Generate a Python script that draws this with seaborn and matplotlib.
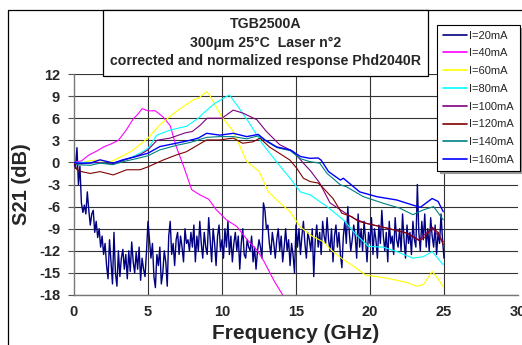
import numpy as np
import pandas as pd
import matplotlib
matplotlib.use("Agg")
import matplotlib.pyplot as plt
from matplotlib.patches import Rectangle
import seaborn as sns

# ---- measured S21 responses (frequency in GHz, S21 in dB) ----
f20 = np.round(np.arange(0, 25.01, 0.1), 1)
s20 = [
    0.0, -0.8, 2.0, -3.0, -0.5, -5.5, -6.8, -5.8, -7.0, -4.0,
    -6.5, -8.5, -7.0, -6.5, -9.5, -8.0, -10.2, -9.0, -11.5, -10.0,
    -12.5, -11.0, -14.0, -15.8, -10.5, -13.5, -16.5, -9.5, -15.0, -16.8,
    -12.0, -15.5, -13.0, -11.8, -14.5, -12.5, -15.8, -12.0, -14.8, -10.8,
    -13.5, -15.0, -12.2, -14.5, -11.5, -16.0, -13.0, -14.5, -15.5, -12.0,
    -8.0, -10.5, -13.0, -11.0, -15.5, -17.0, -12.5, -14.0, -11.5, -16.5,
    -15.0, -12.0, -13.5, -16.8, -10.0, -8.0, -12.5, -11.0, -14.0, -10.5,
    -9.5, -12.5, -10.0, -11.5, -13.5, -9.0, -11.0, -10.5, -12.0, -9.5,
    -11.5, -8.5, -13.5, -10.0, -12.0, -8.0, -11.0, -13.0, -9.5, -11.5,
    -12.5, -7.5, -10.5, -13.5, -9.0, -11.0, -14.0, -10.0, -8.5, -12.0,
    -10.5, -13.0, -9.0, -11.5, -8.0, -12.5, -10.0, -13.5, -11.0, -9.5,
    -12.0, -10.0, -14.5, -11.0, -9.0, -12.5, -13.0, -10.5, -11.5, -12.0,
    -10.0, -13.5, -11.5, -14.5, -12.0, -10.5, -11.5, -13.0, -5.5, -6.5,
    -9.0, -8.5, -11.0, -12.5, -9.5, -11.0, -13.0, -10.5, -9.0, -12.0,
    -10.0, -13.5, -11.5, -9.0, -12.0, -10.5, -14.0, -11.0, -12.5, -15.0,
    -8.5, -11.5, -9.0, -12.5, -10.0, -8.0, -11.0, -13.0, -9.5, -10.5,
    -12.0, -9.0, -15.5, -10.5, -8.5, -11.5, -9.5, -12.5, -8.0, -10.0,
    -11.0, -7.5, -10.5, -12.0, -9.0, -13.5, -10.0, -8.5, -11.5, -9.5,
    -12.5, -14.3, -10.0, -8.0, -11.0, -6.0, -9.5, -12.0, -10.5, -8.5,
    -10.0, -13.0, -7.0, -11.5, -9.0, -12.0, -8.0, -10.5, -13.5, -9.5,
    -11.0, -7.5, -12.5, -9.0, -10.5, -13.0, -8.5, -11.0, -6.5, -10.0,
    -12.0, -9.5, -13.5, -8.0, -11.0, -10.0, -12.5, -7.5, -10.5, -11.5,
    -9.0, -12.0, -7.0, -10.5, -13.0, -8.5, -11.0, -9.5, -12.5, -8.0,
    -10.5, -11.5, -3.0, -9.5, -12.0, -8.0, -10.5, -7.0, -11.5, -9.0,
    -12.0, -7.5, -10.0, -11.5, -8.5, -12.5, -9.5, -11.0, -7.0, -10.5,
    -13.0,
]

f40 = [0, 0.5, 1, 1.5, 2, 2.5, 3, 3.5, 4, 4.3, 4.6, 5, 5.5, 6, 6.5, 6.9, 7.4,
       7.95, 8.5, 9.1, 9.6, 10.3, 11, 11.7, 12.4, 12.8, 13.5, 14.1]
s40 = [0, 0.2, 1.0, 1.5, 2.1, 2.5, 3.0, 4.3, 5.9, 6.5, 7.3, 7.0, 7.0, 6.2, 5.0,
       2.2, -0.5, -3.7, -4.4, -5.0, -6.4, -7.8, -8.7, -10.5, -12.0, -13.3,
       -16.0, -18.0]

f60 = [0, 0.5, 1, 1.5, 2, 2.5, 3, 3.5, 4, 4.5, 5, 5.8, 6.9, 8.06, 8.4, 8.96,
       9.2, 9.98, 10.77, 11.67, 12.5, 13.13, 13.7, 14.6, 15.27, 16.0, 16.85,
       17.5, 18.2, 18.9, 19.7, 20.45, 21.1, 21.8, 22.5, 23.15, 23.6, 24.2,
       24.6, 24.95]
s60 = [0, -0.1, 0.2, 0.3, 0.2, 0.1, 0.6, 1.1, 1.7, 2.5, 3.3, 5.1, 6.9, 8.5,
       8.7, 9.6, 9.0, 6.2, 4.2, 0.1, -1.2, -4.0, -5.1, -6.7, -8.7, -9.9,
       -10.8, -12.1, -13.2, -14.1, -15.3, -15.5, -15.7, -16.0, -16.3, -16.8,
       -16.6, -14.8, -15.8, -16.9]

f80 = [0, 0.5, 1, 1.5, 2, 2.5, 3, 3.5, 4, 4.5, 5, 5.6, 6.5, 7.6, 8.4, 8.75,
       9.5, 10.1, 10.5, 11, 11.8, 12.7, 13.6, 14.6, 15.3, 15.95, 17.1, 18.2,
       19.1, 19.9, 20.9, 21.8, 22.9, 23.6, 24.2, 24.95]
s80 = [0, 0, 0, -0.1, -0.1, -0.2, 0.1, 0.4, 0.8, 1.3, 1.9, 3.7, 4.4, 4.9, 6.0,
       6.7, 8.0, 8.7, 9.15, 7.8, 5.5, 2.6, 0.3, -2.15, -4.0, -4.4, -6.0, -7.8,
       -9.85, -11.4, -11.5, -12.1, -13.0, -12.8, -12.1, -13.9]

f100 = [0, 0.5, 1, 1.5, 2, 2.5, 3, 3.5, 4, 4.5, 5, 5.6, 6.5, 7.5, 8.0, 8.5,
        9.0, 10.0, 10.76, 11.4, 12.35, 13.0, 13.9, 14.8, 15.5, 16.0, 16.6,
        17.3, 18.2, 18.9, 19.8, 21.1, 22.5, 23.3, 24.2, 24.95]
s100 = [0, -0.2, -0.1, 0, -0.1, -0.2, 0, 0.4, 0.7, 1.1, 1.7, 3.0, 3.3, 4.0,
        4.2, 5.0, 6.0, 6.0, 7.1, 6.7, 5.8, 4.2, 2.4, 1.5, -0.1, -1.2, -2.8,
        -5.5, -6.7, -7.6, -8.3, -8.9, -9.6, -10.5, -8.9, -10.75]

f120 = [0, 0.2, 0.5, 1.1, 1.76, 2.65, 3.56, 4.46, 5.0, 6.0, 6.9, 7.6, 8.4,
        8.96, 9.86, 10.76, 11.4, 12.1, 12.57, 13.2, 13.9, 14.6, 15.05, 15.5,
        15.95, 16.5, 16.85, 17.5, 18.1, 18.8, 19.2, 19.8, 21.1, 22.5, 23.3,
        23.7, 24.2, 24.6, 24.95]
s120 = [0, -1.0, -1.25, -1.5, -1.25, -1.7, -1.0, -1.0, -0.6, 0.3, 1.0, 1.45,
        2.4, 3.05, 3.05, 3.3, 2.6, 2.8, 3.3, 2.1, 1.2, 0.3, -0.8, -2.15, -2.6,
        -2.8, -3.5, -4.9, -6.9, -7.4, -8.0, -8.3, -8.9, -9.6, -10.6, -10.2,
        -8.8, -9.5, -11.2]

f140 = [0, 0.2, 1.1, 1.76, 2.65, 3.3, 4.2, 5.0, 5.8, 6.9, 7.84, 8.96, 9.86,
        10.76, 11.67, 12.45, 12.9, 13.7, 14.6, 15.3, 15.95, 16.6, 17.1, 18.0,
        18.4, 19.55, 20.9, 22.0, 22.9, 23.6, 24.3, 24.95]
s140 = [0, -0.3, -0.4, -0.1, -0.3, 0.1, 0.5, 0.9, 1.7, 2.3, 2.7, 3.4, 3.5,
        3.5, 3.2, 3.6, 3.0, 2.0, 1.6, 0.5, 0.1, -0.1, -1.5, -3.05, -3.3,
        -4.65, -5.55, -6.2, -7.1, -6.45, -6.0, -7.8]

f160 = [0, 0.2, 1.1, 1.76, 2.65, 3.3, 4.2, 5.0, 5.8, 6.9, 7.84, 8.4, 8.96,
        9.86, 10.76, 11.67, 12.45, 12.9, 13.7, 14.6, 15.3, 15.95, 16.5, 16.7,
        17.2, 18.0, 18.2, 19.3, 20.45, 21.8, 22.9, 23.4, 24.2, 24.6, 24.95]
s160 = [0, -0.1, -0.1, 0.35, -0.1, 0.35, 0.8, 1.25, 2.15, 2.6, 3.0, 3.3, 3.95,
        3.7, 3.95, 3.5, 3.8, 3.05, 2.1, 1.7, 0.8, 0.55, 0.6, 0.3, -1.25, -2.4,
        -2.15, -4.0, -4.65, -5.1, -5.8, -6.1, -4.9, -5.3, -6.7]

labels = ["I=20mA", "I=40mA", "I=60mA", "I=80mA",
          "I=100mA", "I=120mA", "I=140mA", "I=160mA"]
freqs = [f20, f40, f60, f80, f100, f120, f140, f160]
gains = [s20, s40, s60, s80, s100, s120, s140, s160]
colors = ["#000080", "#FF00FF", "#FFFF00", "#00FFFF",
          "#800080", "#800000", "#008080", "#0000FF"]
widths = [1.0, 0.8, 0.8, 0.8, 0.8, 0.8, 0.8, 1.0]

xticks = [0, 5, 10, 15, 20, 25, 30]
yticks = [12, 9, 6, 3, 0, -3, -6, -9, -12, -15, -18]

df = pd.concat(
    [pd.DataFrame({"freq": np.asarray(f, float), "s21": np.asarray(s, float), "curve": lab})
     for f, s, lab in zip(freqs, gains, labels)],
    ignore_index=True,
)

sns.set_style("white")
plt.rcParams["font.family"] = ["Liberation Sans", "DejaVu Sans"]

W, H = 522, 345
fig = plt.figure(figsize=(W / 100, H / 100), dpi=100)
ax = fig.add_axes([74 / W, 1 - 295 / H, (518 - 74) / W, (295 - 74) / H])

palette = dict(zip(labels, colors))
for lab, lw in zip(labels, widths):
    sns.lineplot(data=df[df["curve"] == lab], x="freq", y="s21", color=palette[lab],
                 linewidth=lw, sort=False, estimator=None, ax=ax, label=lab, zorder=3)

ax.set_xlim(0, 30)
ax.set_ylim(-18, 12)
ax.set_xticks(xticks)
ax.set_yticks(yticks)
ax.set_xticklabels([str(t) for t in xticks], fontsize=10.5, fontweight="bold")
ax.set_yticklabels([str(t) for t in yticks], fontsize=10.5, fontweight="bold")
ax.tick_params(axis="x", length=0, pad=7)
ax.tick_params(axis="y", length=4, width=0.8, color="#555555", pad=6, left=True)

# grid lines
for y in yticks:
    ax.axhline(y, color="#333333", lw=0.8, zorder=1)
for x in [5, 10, 15, 20, 25]:
    ax.axvline(x, color="#333333", lw=0.8, zorder=1)
ax.grid(False)

for side in ["top", "right"]:
    ax.spines[side].set_visible(False)
for side in ["left", "bottom"]:
    ax.spines[side].set_color("#777777")
    ax.spines[side].set_linewidth(1.0)

ax.set_xlabel("Frequency (GHz)", fontsize=15, fontweight="bold", labelpad=4)
ax.set_ylabel("S21 (dB)", fontsize=14.5, fontweight="bold", labelpad=6)

leg = ax.legend(loc="upper left", bbox_to_anchor=(437 / W, 1 - 25 / H),
                bbox_transform=fig.transFigure, fontsize=8, frameon=True,
                fancybox=False, shadow={"color": "#999999", "alpha": 1.0},
                edgecolor="black", framealpha=1, handlelength=2.2,
                handletextpad=0.2, labelspacing=0.7, borderpad=0.5,
                borderaxespad=0)
leg.get_frame().set_linewidth(0.8)
leg.set_zorder(10)
for line in leg.get_lines():
    line.set_linewidth(1.2)

# outer chart frame
fig.add_artist(Rectangle((8 / W, -0.2), 1.2, 1.2 - 10 / H,
                         transform=fig.transFigure, fill=False,
                         edgecolor="black", lw=0.9, zorder=0))

# title box
fig.add_artist(Rectangle((103 / W, 1 - 76 / H), (428 - 103) / W, (76 - 10) / H,
                         transform=fig.transFigure, facecolor="white",
                         edgecolor="black", lw=0.9, zorder=6))
title_lines = ["TGB2500A", "300\u00b5m 25\u00b0C  Laser n\u00b02",
               "corrected and normalized response Phd2040R"]
for i, t in enumerate(title_lines):
    fig.text(266 / W, 1 - (24 + 18.5 * i) / H, t, ha="center", va="center",
             fontsize=10.2, fontweight="bold", zorder=7)

fig.savefig("out.png", dpi=100)
